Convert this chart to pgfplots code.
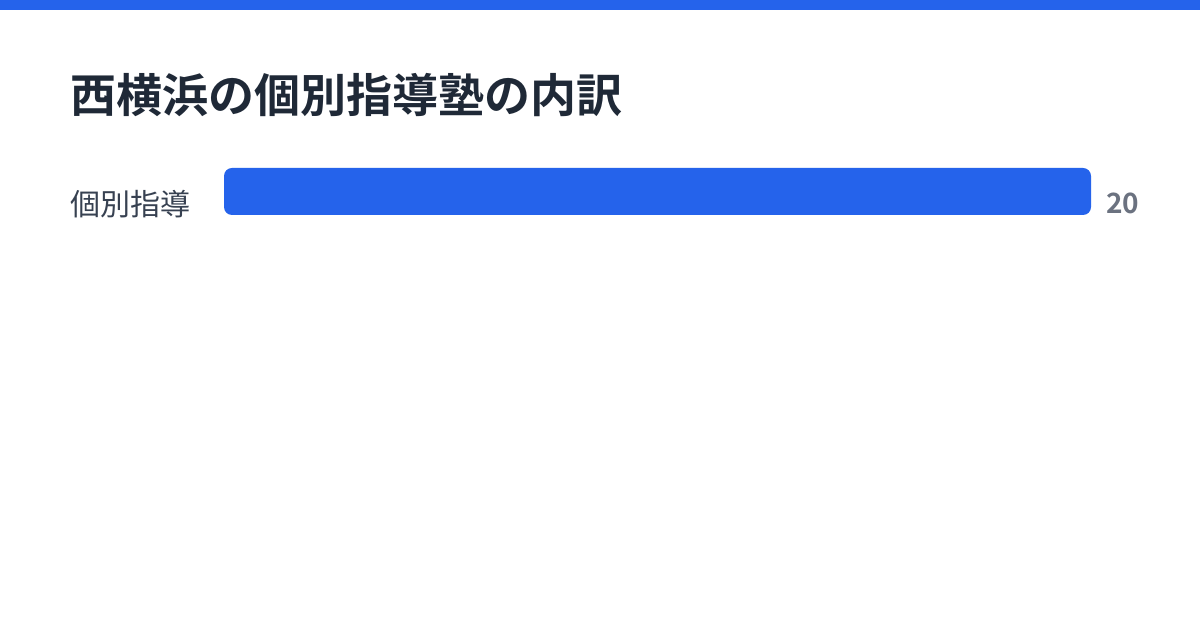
\documentclass[border=0pt]{standalone}
\usepackage{pgfplots}
\pgfplotsset{compat=1.18}
\usepackage{fontspec}
\setmainfont{Noto Sans CJK JP}
\newfontfamily\jpbold{Noto Sans CJK JP Bold}
\definecolor{barblue}{HTML}{2563EB}
\definecolor{titlecol}{HTML}{1F2937}
\definecolor{labelcol}{HTML}{374151}
\definecolor{valcol}{HTML}{6B7280}

\begin{document}
\begin{tikzpicture}
  % 1px = 0.5pt, canvas 1200x630
  \useasboundingbox[fill=white] (0,0) rectangle (600pt,315pt);
  \fill[barblue] (0,310pt) rectangle (600pt,315pt);
  \node[anchor=base west, inner sep=0, text=titlecol]
    at (35pt,258.5pt) {\jpbold\fontsize{23pt}{28pt}\selectfont 西横浜の個別指導塾の内訳};
  \node[anchor=base west, inner sep=0, text=labelcol]
    at (35pt,207pt) {\fontsize{15pt}{18pt}\selectfont 個別指導};

  \begin{axis}[
    at={(112pt,207.5pt)}, anchor=south west,
    scale only axis,
    width=433.5pt, height=23.5pt,
    hide axis, clip=false,
    xmin=0, xmax=20,
    ymin=-0.5, ymax=0.5,
    xbar, bar width=23.5pt,
    /pgf/number format/assume math mode=true,
    nodes near coords,
    every node near coord/.append style={
      anchor=base west, inner sep=0, xshift=7.5pt, yshift=-11.25pt,
      text=valcol, font=\jpbold\fontsize{14pt}{17pt}\selectfont},
  ]
    \addplot[fill=barblue, draw=none, rounded corners=4pt] coordinates {(20,0)};
  \end{axis}
\end{tikzpicture}
\end{document}
